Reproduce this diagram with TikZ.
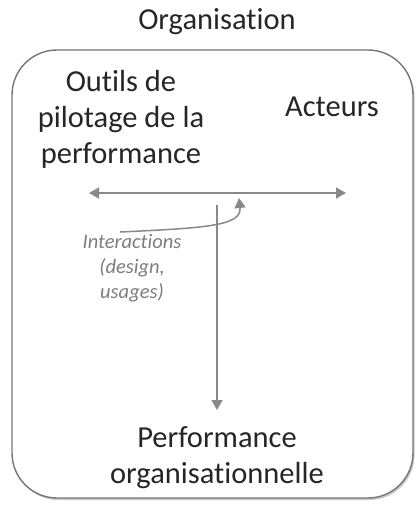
\documentclass[tikz,border=0pt]{standalone}
\usepackage{fontspec}
\setmainfont[Ligatures=NoCommon]{Carlito}
\usetikzlibrary{arrows.meta,shadows}
\definecolor{txtdark}{RGB}{38,38,38}
\definecolor{txtgray}{RGB}{125,125,128}
\definecolor{arrgray}{RGB}{137,137,141}
\definecolor{boxgray}{RGB}{118,118,118}
\newcommand{\bigtxt}{\fontsize{30.5}{35.5}\selectfont}
\newcommand{\smalltxt}{\fontsize{20.5}{25}\selectfont\itshape}

\begin{document}
\begin{tikzpicture}[x=1pt, y=-1pt,
    lbl/.style={text=txtdark, align=center, anchor=base, inner sep=0pt, font=\bigtxt},
    note/.style={text=txtgray, align=center, anchor=base, inner sep=0pt, font=\smalltxt},
    arr/.style={draw=arrgray, line width=1.8pt, -{Triangle[length=10pt,width=11pt]}}]
        \useasboundingbox (0,0) rectangle (416,505);
        %box
        \draw[boxgray, line width=1.4pt, fill=white, rounded corners=45pt,
              drop shadow={shadow xshift=1.5pt, shadow yshift=-2pt, opacity=0.35, fill=black!60}]
              (12,50) rectangle (413,498);
        %nodes (base = last line)
        \node[lbl] (org) at (217,30) {Organisation};
        \node[lbl] (outils) at (121,163) {Outils de\\pilotage de la\\performance};
        \node[lbl] (acteurs) at (332,117) {Acteurs};
        \node[lbl] (perf) at (217,483) {Performance\\organisationnelle};
        \node[note] (inter) at (132,298) {Interactions\\(design,\\usages)};
        %ends
        \coordinate (hl) at (89,193);
        \coordinate (hr) at (346,193);
        \coordinate (vt) at (217,205);
        \coordinate (vb) at (217,410);
        \coordinate (cs) at (120,232);
        \coordinate (ct) at (239,198);
        %edges
        \path [arr, {Triangle[length=10pt,width=11pt]}-{Triangle[length=10pt,width=11pt]}] (hl) -- (hr);
        \path [arr] (vt) -- (vb);
        \path [arr, line width=1.5pt] (cs) .. controls (205,228) and (242,226) .. (ct);
      \end{tikzpicture}
\end{document}
